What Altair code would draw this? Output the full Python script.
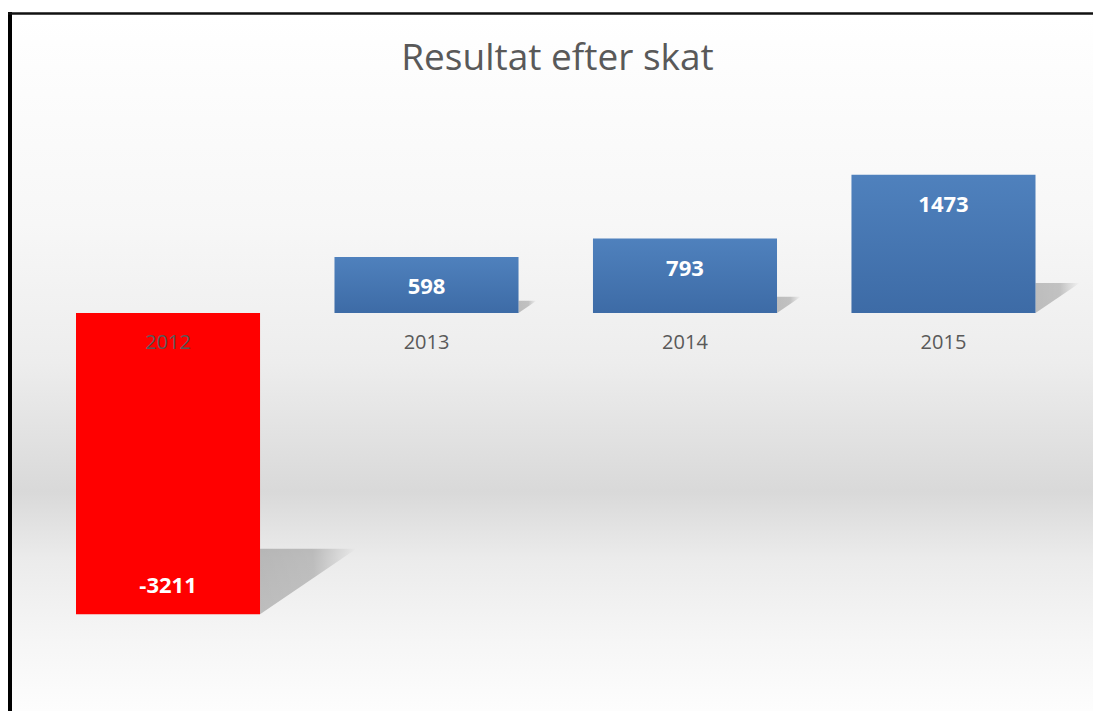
import altair as alt
import pandas as pd

years = ["2012", "2013", "2014", "2015"]
values = [-3211, 598, 793, 1473]

df = pd.DataFrame({"year": years, "value": values})

W, H = 1081, 696
FONT = "Open Sans"

xscale = alt.Scale(domain=years, range=[64, 1023.5], paddingInner=0.288, paddingOuter=0)
yscale = alt.Scale(domain=[-4243, 3177], nice=False, zero=False)

base = alt.Chart(df).transform_calculate(
    zero="0", base="min(datum.value, 0)", label="'' + datum.value"
)

X = alt.X("year:N", scale=xscale, axis=None)

bg = alt.Chart(alt.Data(values=[{"k": 1}])).mark_rect(
    color=alt.Gradient(
        gradient="linear", x1=0, x2=0, y1=0, y2=1,
        stops=[
            alt.GradientStop(color="#ffffff", offset=0),
            alt.GradientStop(color="#f7f7f7", offset=0.3),
            alt.GradientStop(color="#ededed", offset=0.5),
            alt.GradientStop(color="#d9d9d9", offset=0.685),
            alt.GradientStop(color="#ebebeb", offset=0.78),
            alt.GradientStop(color="#f6f6f6", offset=0.9),
            alt.GradientStop(color="#fdfdfd", offset=1),
        ],
    )
).encode(x=alt.value(0), x2=alt.value(W), y=alt.value(0), y2=alt.value(H))

left_border = alt.Chart(alt.Data(values=[{"k": 1}])).mark_rule(color="#000000", strokeWidth=4).encode(
    x=alt.value(-2), y=alt.value(-3), y2=alt.value(H)
)
top_border = alt.Chart(alt.Data(values=[{"k": 1}])).mark_rule(color="#111111", strokeWidth=2.5).encode(
    x=alt.value(-4), x2=alt.value(W), y=alt.value(-1.5)
)

shadow_fill = alt.Gradient(
    gradient="linear", x1=0, x2=1, y1=0, y2=0,
    stops=[
        alt.GradientStop(color="rgba(0,0,0,0.22)", offset=0),
        alt.GradientStop(color="rgba(0,0,0,0.20)", offset=0.55),
        alt.GradientStop(color="rgba(0,0,0,0.0)", offset=1),
    ],
)

shadow = base.transform_calculate(
    sz="pow(2 * 0.32 * abs(datum.value) * 0.0938, 2)",
).mark_point(
    shape="M0,0L0,-0.68L1,-0.68Z", filled=True, fill=shadow_fill, opacity=1, strokeWidth=0
).encode(
    x=alt.X("year:N", scale=xscale, axis=None, bandPosition=1),
    y=alt.Y("base:Q", scale=yscale, axis=None),
    size=alt.Size("sz:Q", scale=None, legend=None),
)

blue = base.transform_filter("datum.value >= 0").mark_bar(
    color=alt.Gradient(
        gradient="linear", x1=0, x2=0, y1=0, y2=1,
        stops=[
            alt.GradientStop(color="#4f81bd", offset=0),
            alt.GradientStop(color="#3d6ba6", offset=1),
        ],
    )
).encode(
    x=X,
    y=alt.Y("value:Q", scale=yscale, axis=None),
    y2="zero:Q",
)

red = base.transform_filter("datum.value < 0").mark_bar(color="#ff0000").encode(
    x=X,
    y=alt.Y("value:Q", scale=yscale, axis=None),
    y2="zero:Q",
)

year_labels = base.mark_text(
    font=FONT, fontSize=20, color="#595959", baseline="middle", dy=30
).encode(
    x=X,
    y=alt.Y("zero:Q", scale=yscale, axis=None),
    text="year:N",
)

pos_labels = base.transform_filter("datum.value >= 0").mark_text(
    font=FONT, fontSize=22, fontWeight="bold", color="#ffffff", baseline="middle", dy=30
).encode(
    x=X,
    y=alt.Y("value:Q", scale=yscale, axis=None),
    text="label:N",
)

neg_labels = base.transform_filter("datum.value < 0").mark_text(
    font=FONT, fontSize=22, fontWeight="bold", color="#ffffff", baseline="middle", dy=-28
).encode(
    x=X,
    y=alt.Y("value:Q", scale=yscale, axis=None),
    text="label:N",
)

chart = alt.layer(
    bg, left_border, top_border, shadow, blue, red, year_labels, pos_labels, neg_labels
).properties(
    width=W,
    height=H,
    padding={"left": 12, "top": 15, "right": 0, "bottom": 0},
    autosize=alt.AutoSizeParams(type="none"),
    background="#ffffff",
    title=alt.Title(
        "Resultat efter skat", font=FONT, fontSize=37, fontWeight="normal", color="#595959",
        anchor="middle", baseline="alphabetic", offset=0, dy=97, dx=5,
    ),
).configure_view(stroke=None)

chart.save("out.html", embed_options={"renderer": "svg", "actions": False})
